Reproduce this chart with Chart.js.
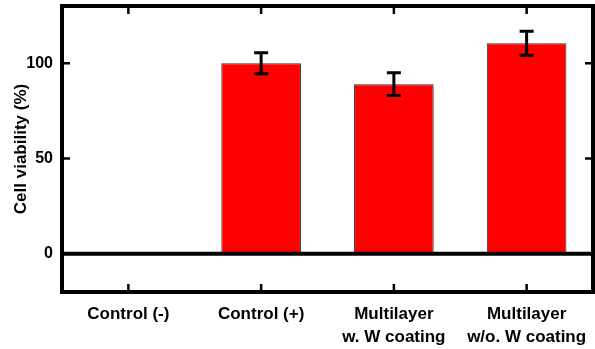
<!DOCTYPE html>
<html>
<head>
<meta charset="utf-8">
<script src="https://cdn.jsdelivr.net/npm/chart.js@4"></script>
<style>
html,body{margin:0;padding:0;background:#fff;}
#wrap{width:595px;height:349px;}
</style>
</head>
<body>
<div id="wrap"><canvas id="c" width="595" height="349"></canvas></div>
<script>
const categories = ['Control (-)', 'Control (+)', ['Multilayer', 'w. W coating'], ['Multilayer', 'w/o. W coating']];
const viability = [0, 100, 89, 110.5];
const errors = [0, 5.5, 6, 6.3];
const yTicks = [0, 50, 100];
const yTitle = 'Cell viability (%)';

const FONT = '"Liberation Sans", Arial, Helvetica, sans-serif';

const framePlugin = {
  id: 'frame',
  afterDatasetsDraw(chart) {
    const ctx = chart.ctx;
    const a = chart.chartArea;
    const x = chart.scales.x, y = chart.scales.y;
    ctx.save();
    // error bars
    ctx.strokeStyle = '#000';
    ctx.lineWidth = 3;
    const meta = chart.getDatasetMeta(0);
    meta.data.forEach((bar, i) => {
      const e = errors[i];
      if (!e) return;
      const cx = bar.x;
      const yt = y.getPixelForValue(viability[i] + e);
      const yb = y.getPixelForValue(viability[i] - e);
      ctx.beginPath();
      ctx.moveTo(cx, yt); ctx.lineTo(cx, yb);
      ctx.moveTo(cx - 7, yt); ctx.lineTo(cx + 7, yt);
      ctx.moveTo(cx - 7, yb); ctx.lineTo(cx + 7, yb);
      ctx.stroke();
    });
    // zero line
    const y0 = y.getPixelForValue(0);
    ctx.lineWidth = 4;
    ctx.beginPath();
    ctx.moveTo(a.left, y0); ctx.lineTo(a.right, y0);
    ctx.stroke();
    // inward ticks
    ctx.lineWidth = 2.5;
    ctx.beginPath();
    yTicks.forEach(v => {
      if (v === 0) return;
      const py = y.getPixelForValue(v);
      ctx.moveTo(a.left, py); ctx.lineTo(a.left + 8, py);
      ctx.moveTo(a.right, py); ctx.lineTo(a.right - 8, py);
    });
    categories.forEach((c, i) => {
      const px = x.getPixelForValue(i);
      ctx.moveTo(px, a.top); ctx.lineTo(px, a.top + 8);
      ctx.moveTo(px, a.bottom); ctx.lineTo(px, a.bottom - 8);
    });
    ctx.stroke();
    // frame
    ctx.lineWidth = 4;
    ctx.strokeRect(a.left, a.top, a.right - a.left, a.bottom - a.top);
    ctx.restore();
  }
};

new Chart(document.getElementById('c'), {
  type: 'bar',
  data: {
    labels: categories,
    datasets: [{
      data: viability,
      backgroundColor: '#ff0000',
      borderColor: '#333333',
      borderWidth: 1,
      barPercentage: 0.75,
      categoryPercentage: 0.8
    }]
  },
  options: {
    responsive: false,
    animation: false,
    layout: { padding: { top: 6, right: 2, left: 0, bottom: 0 } },
    plugins: { legend: { display: false }, tooltip: { enabled: false } },
    scales: {
      x: {
        grid: { display: false, drawTicks: false },
        border: { display: false },
        afterFit(s) { s.height = 57; s.paddingLeft = 0; s.paddingRight = 0; },
        ticks: {
          color: '#000',
          padding: 10,
          maxRotation: 0,
          autoSkip: false,
          font: { family: FONT, size: 17, weight: 'bold', lineHeight: 1.4 }
        }
      },
      y: {
        min: -20,
        max: 130,
        afterBuildTicks(s) { s.ticks = yTicks.map(v => ({ value: v })); },
        afterFit(s) { s.width = 62; s.paddingTop = 0; s.paddingBottom = 0; },
        grid: { display: false, drawTicks: false },
        border: { display: false },
        ticks: {
          color: '#000',
          padding: 9,
          font: { family: FONT, size: 16, weight: 'bold' }
        },
        title: {
          display: true,
          text: yTitle,
          color: '#000',
          padding: { top: 11, bottom: 0 },
          font: { family: FONT, size: 17, weight: 'bold' }
        }
      }
    }
  },
  plugins: [framePlugin]
});
</script>
</body>
</html>
